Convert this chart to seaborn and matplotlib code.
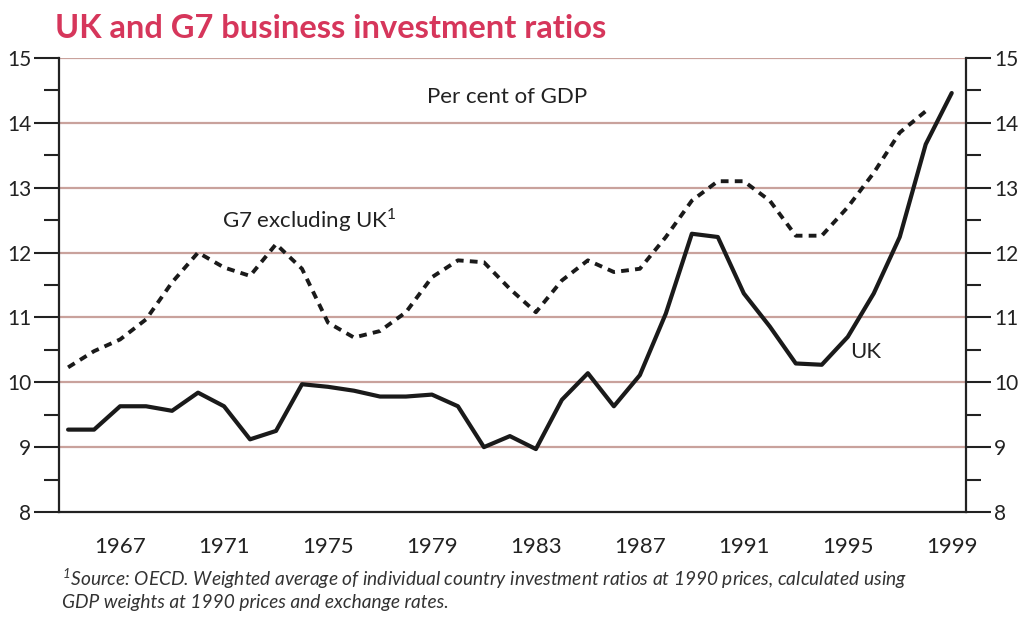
import matplotlib
matplotlib.use("Agg")
import matplotlib.pyplot as plt
import seaborn as sns
import pandas as pd
from matplotlib.ticker import MultipleLocator

# Values (per cent of GDP)
uk_years = list(range(1965, 2000))
uk_ratio = [9.27, 9.27, 9.63, 9.63, 9.56, 9.84, 9.63, 9.12, 9.25, 9.97,
            9.93, 9.87, 9.78, 9.78, 9.81, 9.63, 9.00, 9.17, 8.97, 9.73,
            10.14, 9.63, 10.11, 11.06, 12.29, 12.24, 11.37, 10.86, 10.29, 10.27,
            10.70, 11.37, 12.24, 13.67, 14.46]

g7_years = list(range(1965, 1999))
g7_ratio = [10.23, 10.48, 10.66, 10.97, 11.54, 12.00, 11.77, 11.64, 12.13, 11.75,
            10.92, 10.69, 10.79, 11.08, 11.62, 11.88, 11.85, 11.44, 11.08, 11.57,
            11.88, 11.70, 11.75, 12.24, 12.80, 13.10, 13.10, 12.80, 12.26, 12.26,
            12.70, 13.23, 13.85, 14.18]

year_ticks = list(range(1967, 2000, 4))
ratio_ticks = list(range(8, 16))

uk = pd.DataFrame({'year': uk_years, 'ratio': uk_ratio})
g7 = pd.DataFrame({'year': g7_years, 'ratio': g7_ratio})

sns.set_style('white')
font = ['Lato', 'DejaVu Sans']
plt.rcParams['font.family'] = font

fig = plt.figure(figsize=(10.19, 6.17), dpi=100)
ax = fig.add_axes([0.0579, 0.1702, 0.8901, 0.7358])

grid_col = '#c9a29c'
for v in ratio_ticks[1:]:
    ax.axhline(v, color=grid_col, lw=1.6, zorder=0)

sns.lineplot(data=uk, x='year', y='ratio', ax=ax, color='#1a1a1a', lw=3.0)
sns.lineplot(data=g7, x='year', y='ratio', ax=ax, color='#1a1a1a', lw=2.8)
g7_line = ax.lines[-1]
g7_line.set_dashes((2.0, 1.6))
g7_line.set_dash_capstyle('butt')

ax.set_xlim(1964.65, 1999.55)
ax.set_ylim(8, 15)
ax.set_xlabel('')
ax.set_ylabel('')

ax.spines['top'].set_visible(False)
for s in ['left', 'right', 'bottom']:
    ax.spines[s].set_color('#222222')
    ax.spines[s].set_linewidth(1.6)

ax.set_xticks(year_ticks)
ax.set_xticklabels([str(y) for y in year_ticks])
ax.xaxis.set_minor_locator(MultipleLocator(1))
ax.set_yticks(ratio_ticks)
ax.yaxis.set_minor_locator(MultipleLocator(0.5))

ax.tick_params(axis='x', which='major', direction='out', length=9, width=1.5,
               colors='#222222', labelsize=16, pad=9)
ax.tick_params(axis='x', which='minor', direction='out', length=5, width=1.5,
               colors='#222222')
ax.tick_params(axis='y', which='major', direction='out', length=18, width=1.5,
               colors='#222222', labelsize=15, pad=2, left=True, right=True,
               labelleft=True, labelright=True)
ax.tick_params(axis='y', which='minor', direction='out', length=11, width=1.5,
               colors='#222222', left=True, right=True)

# series labels
ax.text(1981.9, 14.4, 'Per cent of GDP', ha='center', va='center',
        fontsize=16, color='#222222')
ax.text(1974.3, 12.5, 'G7 excluding UK$^{\\mathregular{1}}$', ha='center',
        va='center', fontsize=16, color='#222222')
ax.text(1995.7, 10.47, 'UK', ha='center', va='center', fontsize=16,
        color='#222222')

fig.text(0.054, 0.953, 'UK and G7 business investment ratios', ha='left',
         va='center', fontsize=23.5, fontweight='bold', color='#d6365b')

fig.text(0.061, 0.062, '$^{\\mathregular{1}}$Source: OECD. Weighted average of individual country '
         'investment ratios at 1990 prices, calculated using',
         ha='left', va='center', fontsize=13.8, style='italic', color='#333333')
fig.text(0.061, 0.024, 'GDP weights at 1990 prices and exchange rates.',
         ha='left', va='center', fontsize=13.8, style='italic', color='#333333')

fig.savefig('out.png', dpi=100)
